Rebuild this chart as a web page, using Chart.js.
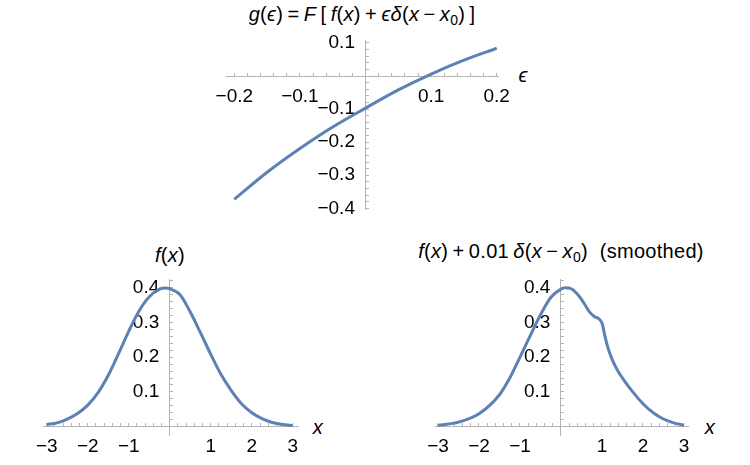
<!DOCTYPE html>
<html>
<head>
<meta charset="utf-8">
<script src="https://cdn.jsdelivr.net/npm/chart.js@4.4.1/dist/chart.umd.min.js"></script>
<style>
    body { margin: 0; width: 750px; height: 465px; background: #fff; position: relative; overflow: hidden;
           font-family: "Liberation Sans", Arial, sans-serif; color: #000; }
    canvas { position: absolute; }
    .txt { position: absolute; white-space: nowrap; font-size: 20px; letter-spacing: 0.3px; transform: translate(-50%, -50%); }
    .txt sub { font-size: 14px; vertical-align: -4px; font-style: normal; }
    .ax { font-size: 20px; }
</style>
</head>
<body>

<div class="txt" style="left:362px; top:15px"><i>g</i>(<i>ϵ</i>)&thinsp;=&thinsp;<i>F</i>&thinsp;[&thinsp;<i>f</i>(<i>x</i>)&thinsp;+&thinsp;<i>ϵδ</i>(<i>x</i>&thinsp;−&thinsp;<i>x</i><sub>0</sub>)&thinsp;]</div>
<div class="txt" style="left:170px; top:255px"><i>f</i>(<i>x</i>)</div>
<div class="txt" style="left:561px; top:252px"><i>f</i>(<i>x</i>)&thinsp;+&thinsp;0.01&thinsp;<i>δ</i>(<i>x</i>&thinsp;−&thinsp;<i>x</i><sub>0</sub>)&nbsp; (smoothed)</div>
<div class="txt ax" style="left:523px; top:75px"><i>ϵ</i></div>
<div class="txt ax" style="left:318px; top:427px"><i>x</i></div>
<div class="txt ax" style="left:710px; top:427px"><i>x</i></div>

<canvas id="gChart" width="340" height="200" style="left:200px; top:25px"></canvas>
<canvas id="fChart" width="375" height="200" style="left:0px; top:265px"></canvas>
<canvas id="sChart" width="375" height="200" style="left:375px; top:265px"></canvas>

<script>
// g(eps) panel
const epsValues = [-0.2, -0.15, -0.1, -0.05, 0, 0.05, 0.1, 0.15, 0.2];
const gValues = [-0.373, -0.291, -0.219, -0.154, -0.097, -0.042, 0.006, 0.048, 0.084];
const gTicksX = [-0.2, -0.1, 0.1, 0.2];
const gTicksY = [-0.4, -0.3, -0.2, -0.1, 0.1];

// f(x) panel
const fX = [-3, -2.75, -2.5, -2.25, -2, -1.75, -1.5, -1.25, -1, -0.75, -0.5, -0.25, -0.1, 0,
            0.25, 0.5, 0.75, 1, 1.25, 1.5, 1.75, 2, 2.25, 2.5, 2.75, 3];
const fValues = [0.006, 0.011, 0.022, 0.038, 0.062, 0.098, 0.148, 0.21, 0.275, 0.333, 0.374, 0.396, 0.399, 0.397,
                 0.38, 0.33, 0.27, 0.208, 0.15, 0.104, 0.066, 0.04, 0.023, 0.012, 0.006, 0.003];

// smoothed f(x) + 0.01 delta panel
const sX = [-3, -2.5, -2, -1.5, -1.25, -1, -0.75, -0.5, -0.25, 0, 0.1, 0.25, 0.44, 0.6, 0.69, 0.81, 0.93,
            1.01, 1.06, 1.14, 1.26, 1.38, 1.5, 1.75, 2, 2.25, 2.5, 2.75, 3];
const sValues = [0.004, 0.013, 0.037, 0.092, 0.14, 0.2, 0.262, 0.322, 0.372, 0.396, 0.4, 0.397, 0.376, 0.348, 0.331, 0.317, 0.31,
                 0.295, 0.267, 0.229, 0.19, 0.162, 0.14, 0.1, 0.066, 0.04, 0.022, 0.011, 0.004];

const xTicksBottom = [-3, -2, -1, 1, 2, 3];
const yTicksBottom = [0.1, 0.2, 0.3, 0.4];

const lineColor = '#5e81b5';
const axisColor = '#b4b4b4';
const tickFont = { family: '"Liberation Sans", Arial, sans-serif', size: 19 };

function fmt(v) {
    return String(v).replace('-', '\u2212');
}

// majors + minor ticks (minor ones get no label)
function tickList(from, to, step, majors) {
    const list = [];
    for (let v = from; v <= to + step / 2; v += step) {
        const r = Math.round(v * 1000) / 1000;
        if (r !== 0) list.push(r);
    }
    majors.forEach(m => { if (!list.includes(m)) list.push(m); });
    return list.sort((a, b) => a - b);
}

function makeChart(id, xs, ys, cfg) {
    const points = xs.map((x, i) => ({ x: x, y: ys[i] }));
    return new Chart(document.getElementById(id), {
        type: 'line',
        data: {
            datasets: [{
                data: points,
                borderColor: lineColor,
                borderWidth: 3,
                pointRadius: 0,
                fill: false,
                cubicInterpolationMode: 'monotone'
            }]
        },
        options: {
            responsive: false,
            animation: false,
            devicePixelRatio: 1,
            layout: { padding: cfg.padding },
            plugins: { legend: { display: false }, tooltip: { enabled: false } },
            scales: {
                x: {
                    type: 'linear',
                    min: cfg.xMin, max: cfg.xMax,
                    position: { y: 0 },
                    afterFit: s => { s.height = 0; },
                    afterBuildTicks: s => { s.ticks = cfg.xTicks.map(v => ({ value: v })); },
                    border: { display: true, color: axisColor, width: 1 },
                    grid: { drawOnChartArea: false, drawTicks: true, tickLength: -4, tickColor: axisColor },
                    ticks: {
                        autoSkip: false, maxRotation: 0, padding: 13, color: '#000', font: tickFont,
                        callback: v => cfg.xMajors.includes(v) ? fmt(v) : ''
                    }
                },
                y: {
                    type: 'linear',
                    min: cfg.yMin, max: cfg.yMax,
                    position: { x: 0 },
                    afterFit: s => { s.width = 0; },
                    afterBuildTicks: s => { s.ticks = cfg.yTicks.map(v => ({ value: v })); },
                    border: { display: true, color: axisColor, width: 1 },
                    grid: { drawOnChartArea: false, drawTicks: true, tickLength: -4, tickColor: axisColor },
                    ticks: {
                        autoSkip: false, color: '#000', font: tickFont,
                        // labels sit right on the axis line here, so pad them with two spaces
                        callback: v => cfg.yMajors.includes(v) ? fmt(v) + '  ' : ''
                    }
                }
            }
        }
    });
}

makeChart('gChart', epsValues, gValues, {
    padding: { left: 26.7, right: 41.7, top: 15, bottom: 15.7 },
    xMin: -0.2116, xMax: 0.2024, yMin: -0.403, yMax: 0.109,
    xTicks: tickList(-0.2, 0.2, 0.02, gTicksX), xMajors: gTicksX,
    yTicks: tickList(-0.4, 0.1, 0.02, gTicksY), yMajors: gTicksY
});

makeChart('fChart', fX, fValues, {
    padding: { left: 43.3, right: 76.7, top: 13.3, bottom: 30 },
    xMin: -3.085, xMax: 3.134, yMin: -0.024, yMax: 0.424,
    xTicks: tickList(-3, 3, 0.2, xTicksBottom), xMajors: xTicksBottom,
    yTicks: tickList(0, 0.42, 0.02, yTicksBottom), yMajors: yTicksBottom
});

makeChart('sChart', sX, sValues, {
    padding: { left: 60, right: 61.7, top: 13.3, bottom: 30 },
    xMin: -3.073, xMax: 3.105, yMin: -0.024, yMax: 0.424,
    xTicks: tickList(-3, 3, 0.2, xTicksBottom), xMajors: xTicksBottom,
    yTicks: tickList(0, 0.42, 0.02, yTicksBottom), yMajors: yTicksBottom
});
</script>
</body>
</html>
